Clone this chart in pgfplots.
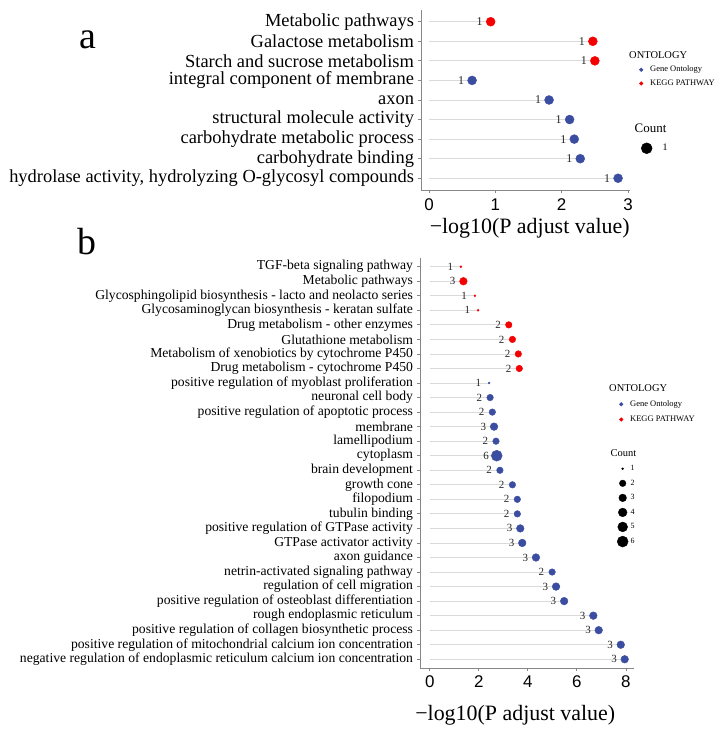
\documentclass[border=0pt]{standalone}
\usepackage{fontspec}
\setmainfont{Liberation Serif}
\newfontfamily\arialf{Liberation Sans}
\usepackage{pgfplots}
\usepackage{pgfplotstable}
\pgfplotsset{compat=1.18}

\definecolor{goblue}{RGB}{58,77,160}
\definecolor{keggred}{RGB}{245,0,0}
\definecolor{seggray}{RGB}{218,218,218}
\definecolor{axgray}{RGB}{135,135,135}

% panel a: y = row (9 at top)
\pgfplotstableread{
y val cnt
9 0.93 1
8 2.47 1
7 2.50 1
}\keggA
\pgfplotstableread{
y val cnt
6 0.65 1
5 1.81 1
4 2.12 1
3 2.19 1
2 2.28 1
1 2.85 1
}\goA

% panel b: y = row (28 at top)
\pgfplotstableread{
y val cnt
28 1.27 1
27 1.37 3
26 1.84 1
25 1.97 1
24 3.22 2
23 3.37 2
22 3.61 2
21 3.65 2
}\keggB
\pgfplotstableread{
y val cnt
20 2.42 1
19 2.46 2
18 2.55 2
17 2.62 3
16 2.70 2
15 2.73 6
14 2.86 2
13 3.37 2
12 3.57 2
11 3.57 2
10 3.69 3
9 3.77 3
8 4.33 3
7 4.99 2
6 5.15 3
5 5.48 3
4 6.67 3
3 6.89 3
2 7.79 3
1 7.95 3
}\goB

\pgfplotsset{
  dotplot/.style={
    scale only axis, clip=false,
    axis lines*=left,
    axis line style={draw=axgray, line width=0.9bp},
    tick align=outside, major tick length=3.5bp,
    tick style={draw=axgray, line width=0.8bp},
    xtick pos=bottom, ytick pos=left,
    ymin=0.4,
    /pgf/number format/assume math mode=true,
    xticklabel style={font=\arialf\fontsize{17}{17}\selectfont},
    yticklabel style={text=black},
  },
  seg/.style={forget plot, xcomb, draw=seggray, line width=0.8bp, mark=none},
  cntlab/.style={forget plot, only marks, mark=none,
    point meta=explicit symbolic, nodes near coords,
    every node near coord/.style={anchor=center, xshift=#1, text=black!85}},
  sized/.style={forget plot, scatter, only marks, mark=*,
    scatter/use mapped color={draw=#1, fill=#1},
    point meta=explicit,
    visualization depends on={ifthenelse(\thisrow{cnt}==1,1.0,2.2+0.55*\thisrow{cnt}) \as \msize},
    scatter/@pre marker code/.append style={/tikz/mark size=\msize}},
  lgd/.style={hide axis, scale only axis, width=20bp, height=20bp,
    xmin=0, xmax=1, ymin=0, ymax=1, anchor=north west,
    legend cell align=left,
    legend image code/.code={\draw[##1] plot coordinates {(4bp,0bp)}; \path[draw=none, fill=none] (0bp,0bp) -- (#1,0bp);},
  },
}

\begin{document}
\begin{tikzpicture}[x=1bp, y=1bp]
\path[use as bounding box] (0,0) rectangle (728,734);

\node[font=\fontsize{38}{38}\selectfont] at (88,694) {a};
\node[font=\fontsize{38}{38}\selectfont] at (87,492) {b};

% ---------- panel a ----------
\begin{axis}[dotplot,
  at={(421bp,544bp)}, anchor=south west,
  width=209bp, height=180bp,
  xmin=-0.12, xmax=3.03, ymax=9.6,
  xtick={0,1,2,3},
  ytick={1,...,9},
  yticklabels={{hydrolase activity, hydrolyzing O-glycosyl compounds},
    carbohydrate binding, carbohydrate metabolic process,
    structural molecule activity, axon, integral component of membrane,
    Starch and sucrose metabolism, Galactose metabolism, Metabolic pathways},
  yticklabel style={font=\fontsize{18.5}{19}\selectfont},
  xticklabel style={yshift=-2bp},
  xlabel={−log10(P adjust value)},
  xlabel style={font=\fontsize{22}{22}\selectfont, at={(axis description cs:0.52,0)}, anchor=center, yshift=-38bp},
]
\addplot[seg] table[x=val, y=y] \goA;
\addplot[seg] table[x=val, y=y] \keggA;
\addplot[forget plot, only marks, mark=*, draw=goblue, fill=goblue, mark size=4.5]
  table[x=val, y=y] \goA;
\addplot[forget plot, only marks, mark=*, draw=keggred, fill=keggred, mark size=4.5]
  table[x=val, y=y] \keggA;
\addplot[cntlab=-11bp, nodes near coords style={font=\fontsize{12}{12}\selectfont}]
  table[x=val, y=y, meta=cnt] \goA;
\addplot[cntlab=-11bp, nodes near coords style={font=\fontsize{12}{12}\selectfont}]
  table[x=val, y=y, meta=cnt] \keggA;
\end{axis}

% legends panel a
\begin{axis}[lgd=11bp, at={(637bp,685bp)},
  legend style={at={(0,1)}, anchor=north west, draw=none, fill=none,
    inner sep=0pt, row sep=2.5bp, font=\fontsize{8.5}{9}\selectfont}]
\addlegendimage{empty legend}
\addlegendentry{\hspace{-21bp}\fontsize{10.5}{11}\selectfont ONTOLOGY\rule[-6bp]{0pt}{6bp}}
\addlegendimage{only marks, mark=*, mark size=1.8, draw=goblue, fill=goblue}
\addlegendentry{Gene Ontology}
\addlegendimage{only marks, mark=*, mark size=1.8, draw=keggred, fill=keggred}
\addlegendentry{KEGG PATHWAY}
\end{axis}
\begin{axis}[lgd=18bp, at={(641bp,612bp)},
  legend style={at={(0,1)}, anchor=north west, draw=none, fill=none,
    inner sep=0pt, row sep=6bp, font=\fontsize{10}{10}\selectfont}]
\addlegendimage{empty legend}
\addlegendentry{\hspace{-28bp}\fontsize{13}{13}\selectfont Count}
\addlegendimage{only marks, mark=*, mark size=5.5, black}
\addlegendentry{1}
\end{axis}

% ---------- panel b ----------
\begin{axis}[dotplot,
  at={(420bp,66bp)}, anchor=south west,
  width=214bp, height=410bp,
  xmin=-0.4, xmax=8.33, ymax=28.6,
  xtick={0,2,4,6,8},
  ytick={1,...,28},
  yticklabels={negative regulation of endoplasmic reticulum calcium ion concentration,
    positive regulation of mitochondrial calcium ion concentration,
    positive regulation of collagen biosynthetic process,
    rough endoplasmic reticulum,
    positive regulation of osteoblast differentiation,
    regulation of cell migration,
    netrin-activated signaling pathway,
    axon guidance,
    GTPase activator activity,
    positive regulation of GTPase activity,
    tubulin binding, filopodium, growth cone, brain development,
    cytoplasm, lamellipodium, membrane,
    positive regulation of apoptotic process,
    neuronal cell body,
    positive regulation of myoblast proliferation,
    Drug metabolism - cytochrome P450,
    Metabolism of xenobiotics by cytochrome P450,
    Glutathione metabolism,
    Drug metabolism - other enzymes,
    Glycosaminoglycan biosynthesis - keratan sulfate,
    Glycosphingolipid biosynthesis - lacto and neolacto series,
    Metabolic pathways,
    TGF-beta signaling pathway},
  yticklabel style={font=\fontsize{13.7}{14}\selectfont},
  xticklabel style={yshift=-1bp},
  xlabel={−log10(P adjust value)},
  xlabel style={font=\fontsize{22}{22}\selectfont, at={(axis description cs:0.445,0)}, anchor=center, yshift=-47bp},
]
\addplot[seg] table[x=val, y=y] \goB;
\addplot[seg] table[x=val, y=y] \keggB;
\addplot[sized=goblue] table[x=val, y=y, meta=cnt] \goB;
\addplot[sized=keggred] table[x=val, y=y, meta=cnt] \keggB;
\addplot[cntlab=-10.7bp, nodes near coords style={font=\fontsize{11}{11}\selectfont}]
  table[x=val, y=y, meta=cnt] \goB;
\addplot[cntlab=-10.7bp, nodes near coords style={font=\fontsize{11}{11}\selectfont}]
  table[x=val, y=y, meta=cnt] \keggB;
\end{axis}

% legends panel b
\begin{axis}[lgd=11bp, at={(617bp,352bp)},
  legend style={at={(0,1)}, anchor=north west, draw=none, fill=none,
    inner sep=0pt, row sep=4bp, font=\fontsize{8.5}{9}\selectfont}]
\addlegendimage{empty legend}
\addlegendentry{\hspace{-21bp}\fontsize{10.5}{11}\selectfont ONTOLOGY\rule[-8bp]{0pt}{8bp}}
\addlegendimage{only marks, mark=*, mark size=1.8, draw=goblue, fill=goblue}
\addlegendentry{Gene Ontology}
\addlegendimage{only marks, mark=*, mark size=1.8, draw=keggred, fill=keggred}
\addlegendentry{KEGG PATHWAY}
\end{axis}
\begin{axis}[lgd=10bp, at={(617bp,287bp)},
  legend style={at={(0,1)}, anchor=north west, draw=none, fill=none,
    inner sep=0pt, row sep=3.8bp, font=\fontsize{8}{8}\selectfont}]
\addlegendimage{empty legend}
\addlegendentry{\hspace{-20bp}\fontsize{10.5}{11}\selectfont Count\rule[-4.5bp]{0pt}{4.5bp}}
\addlegendimage{only marks, mark=*, mark size=1.0, black}
\addlegendentry{1}
\addlegendimage{only marks, mark=*, mark size=3.3, black}
\addlegendentry{2}
\addlegendimage{only marks, mark=*, mark size=3.85, black}
\addlegendentry{3}
\addlegendimage{only marks, mark=*, mark size=4.4, black}
\addlegendentry{4}
\addlegendimage{only marks, mark=*, mark size=4.95, black}
\addlegendentry{5}
\addlegendimage{only marks, mark=*, mark size=5.5, black}
\addlegendentry{6}
\end{axis}
\end{tikzpicture}
\end{document}
